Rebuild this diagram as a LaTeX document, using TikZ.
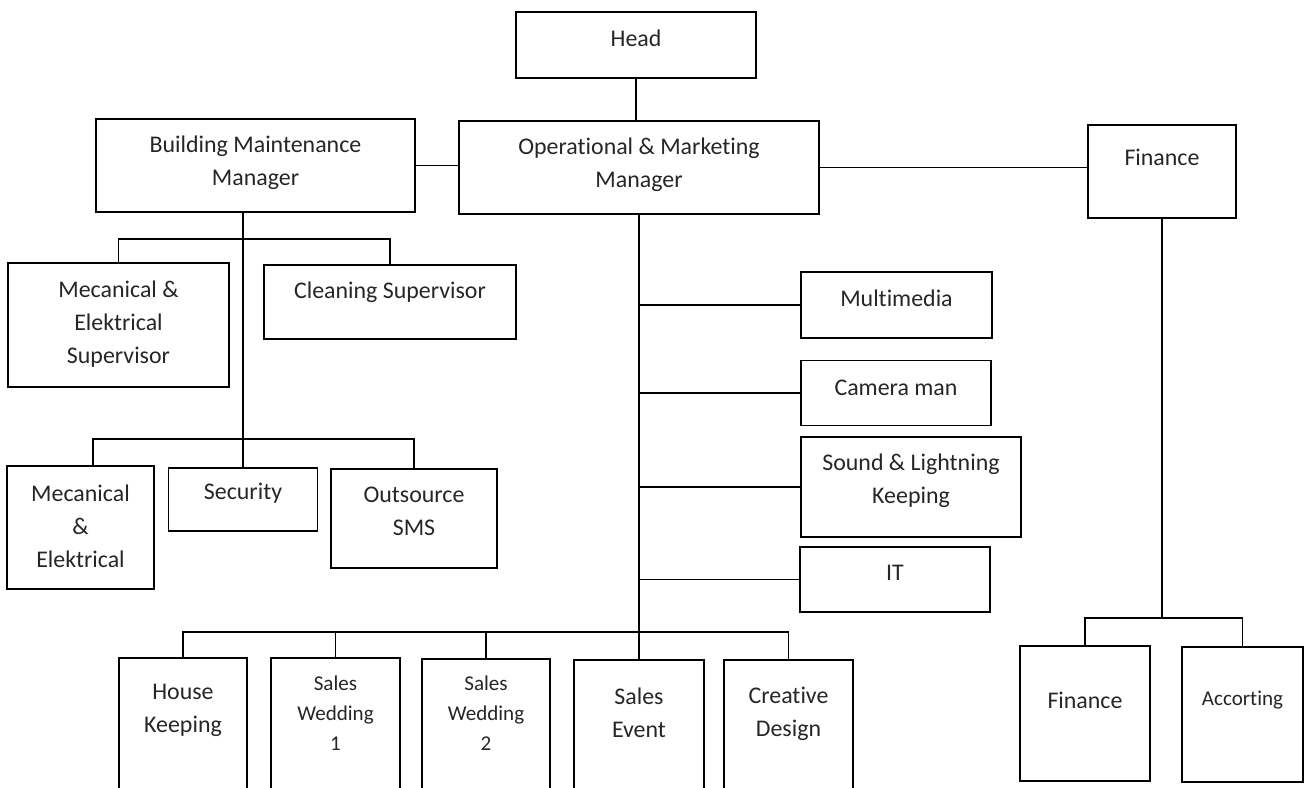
\documentclass[tikz,border=0pt]{standalone}
\usepackage{fontspec}
\setmainfont{Carlito}[Ligatures=NoCommon]
\tikzset{
	box/.style={draw, rectangle, line width=1.1pt, inner sep=0pt},
	txt/.style={align=center, text=black!85, font=\fontsize{13.6}{18.7}\selectfont},
	small/.style={align=center, text=black!85, font=\fontsize{12}{17}\selectfont},
	link/.style={draw, line width=0.9pt},
}
\begin{document}
\begin{tikzpicture}[x=0.02cm, y=-0.02cm]
	\useasboundingbox (0,0) rectangle (1306,788);
	\clip (0,0) rectangle (1306,788);
	% Define the boxes with specific positions
	\node[box, minimum width=4.8cm, minimum height=1.32cm] (head) at (636,45) {};
	\node[box, minimum width=6.38cm, minimum height=1.86cm] (bmm) at (255.5,165.5) {};
	\node[box, minimum width=7.2cm, minimum height=1.86cm] (omm) at (639,167.5) {};
	\node[box, minimum width=2.96cm, minimum height=1.86cm] (fin) at (1162,171.5) {};
	\node[box, minimum width=4.42cm, minimum height=2.48cm] (mes) at (118.5,325) {};
	\node[box, minimum width=5.04cm, minimum height=1.48cm] (clean) at (390,302) {};
	\node[box, minimum width=2.94cm, minimum height=2.46cm] (me) at (80.5,527.5) {};
	\node[box, minimum width=2.98cm, minimum height=1.26cm] (sec) at (243,499.5) {};
	\node[box, minimum width=3.32cm, minimum height=1.98cm] (out) at (414,518.5) {};
	\node[box, minimum width=3.82cm, minimum height=1.32cm] (mm) at (896.5,305) {};
	\node[box, minimum width=3.8cm, minimum height=1.3cm] (cam) at (896,393) {};
	\node[box, minimum width=4.4cm, minimum height=2cm] (snd) at (911,487) {};
	\node[box, minimum width=3.8cm, minimum height=1.3cm] (it) at (895,579.5) {};
	\node[box, minimum width=2.56cm, minimum height=2.84cm] (hk) at (183,729) {};
	\node[box, minimum width=2.58cm, minimum height=2.84cm] (sw1) at (335.5,729) {};
	\node[box, minimum width=2.56cm, minimum height=2.84cm] (sw2) at (486,730) {};
	\node[box, minimum width=2.6cm, minimum height=2.84cm] (se) at (639,731) {};
	\node[box, minimum width=2.58cm, minimum height=2.84cm] (cd) at (788.5,731) {};
	\node[box, minimum width=2.6cm, minimum height=2.7cm] (fin2) at (1085,713.5) {};
	\node[box, minimum width=2.42cm, minimum height=2.7cm] (acc) at (1242.5,714.5) {};

	% Put the texts in the boxes
	\node[txt] (headT) at (636,38) {Head};
	\node[txt] (bmmT) at (255.5,162.5) {Building Maintenance\\Manager};
	\node[txt] (ommT) at (639,165) {Operational \& Marketing\\Manager};
	\node[txt] (finT) at (1162,157) {Finance};
	\node[txt] (mesT) at (118.5,324) {Mecanical \&\\Elektrical\\Supervisor};
	\node[txt] (cleanT) at (390,292) {Cleaning Supervisor};
	\node[txt] (meT) at (80.5,526) {Mecanical\\\&\\Elektrical};
	\node[txt] (secT) at (243,493) {Security};
	\node[txt] (outT) at (414,511.5) {Outsource\\SMS};
	\node[txt] (mmT) at (896.5,298) {Multimedia};
	\node[txt] (camT) at (896,388) {Camera man};
	\node[txt] (sndT) at (911,480.5) {Sound \& Lightning\\Keeping};
	\node[txt] (itT) at (895,573) {IT};
	\node[txt] (hkT) at (183,710.5) {House\\Keeping};
	\node[small] (sw1T) at (335.5,713) {Sales\\Wedding\\1};
	\node[small] (sw2T) at (486,713) {Sales\\Wedding\\2};
	\node[txt] (seT) at (639,712.5) {Sales\\Event};
	\node[txt] (cdT) at (788.5,713.5) {Creative\\Design};
	\node[txt] (fin2T) at (1085,700) {Finance};
	\node[small] (accT) at (1242.5,700) {Accorting};

	% Draw the lines between the boxes
	\coordinate (bu) at (243,239);
	\coordinate (bl) at (243,439);
	\coordinate (ob) at (639,632);
	\coordinate (fb) at (1162,618);
	\draw[link] (head.south) -- (head.south |- omm.north);
	\draw[link] (bmm.east) -- (bmm.east -| omm.west);
	\draw[link] (omm.east) -- (omm.east -| fin.west);
	\draw[link] (bmm.south -| sec.north) -- (sec.north);
	\draw[link] (mes.north) |- (bu) -| (clean.north);
	\draw[link] ([xshift=0.25cm]me.north) |- (bl) -| (out.north);
	\draw[link] (omm.south) -- (se.north);
	\draw[link] (mm.west -| omm.south) -- (mm.west);
	\draw[link] (cam.west -| omm.south) -- (cam.west);
	\draw[link] (snd.west -| omm.south) -- (snd.west);
	\draw[link] (it.west -| omm.south) -- (it.west);
	\draw[link] (hk.north) |- (ob) -| (cd.north);
	\draw[link] (sw1.north) -- (sw1.north |- ob);
	\draw[link] (sw2.north) -- (sw2.north |- ob);
	\draw[link] (fin.south) -- (fb);
	\draw[link] (fin2.north) |- (fb) -| (acc.north);
\end{tikzpicture}
\end{document}
